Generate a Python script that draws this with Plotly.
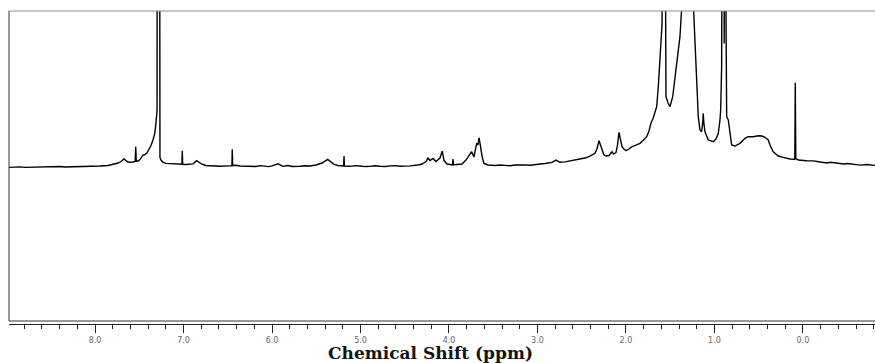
import plotly.graph_objects as go

# Chemical shift (ppm) and intensity (relative units, baseline = 0)
shift_ppm = [
    8.972, 8.91, 8.847, 8.79, 8.734, 8.68, 8.621, 8.56, 8.508, 8.45,
    8.395, 8.34, 8.282, 8.22, 8.169, 8.11, 8.056, 8.00, 7.944, 7.853,
    7.797, 7.740, 7.706, 7.672, 7.638, 7.605, 7.571, 7.546, 7.540, 7.534,
    7.514, 7.492, 7.458, 7.435, 7.412, 7.390, 7.367, 7.345, 7.325, 7.311,
    7.299, 7.286, 7.273, 7.266, 7.254, 7.232, 7.198, 7.153, 7.096, 7.040,
    7.018, 7.014, 7.009, 6.972, 6.927, 6.893, 6.851, 6.825, 6.791, 6.746,
    6.678, 6.588, 6.497, 6.453, 6.449, 6.444, 6.407, 6.362, 6.271, 6.181,
    6.13, 6.079, 6.04, 6.000, 5.932, 5.876, 5.82, 5.774, 5.73, 5.684,
    5.63, 5.571, 5.503, 5.435, 5.371, 5.333, 5.299, 5.254, 5.191, 5.186,
    5.182, 5.119, 5.06, 5.006, 4.95, 4.893, 4.84, 4.780, 4.72, 4.667,
    4.61, 4.554, 4.50, 4.441, 4.350, 4.305, 4.260, 4.237, 4.215, 4.181,
    4.147, 4.102, 4.076, 4.056, 4.023, 3.989, 3.960, 3.955, 3.949, 3.910,
    3.853, 3.808, 3.774, 3.744, 3.718, 3.687, 3.672, 3.661, 3.644, 3.627,
    3.605, 3.559, 3.480, 3.42, 3.367, 3.31, 3.254, 3.20, 3.141, 3.08,
    3.028, 2.97, 2.915, 2.836, 2.791, 2.746, 2.689, 2.633, 2.576, 2.520,
    2.463, 2.407, 2.350, 2.328, 2.316, 2.305, 2.288, 2.271, 2.249, 2.226,
    2.192, 2.158, 2.141, 2.113, 2.096, 2.079, 2.062, 2.045, 2.023, 2.000,
    1.966, 1.932, 1.887, 1.842, 1.808, 1.766, 1.740, 1.718, 1.692, 1.653,
    1.635, 1.608, 1.593, 1.567, 1.548, 1.525, 1.503, 1.472, 1.427, 1.390,
    1.362, 1.294, 1.243, 1.220, 1.201, 1.183, 1.164, 1.145, 1.132, 1.127,
    1.121, 1.107, 1.070, 1.014, 0.983, 0.957, 0.938, 0.930, 0.919, 0.912,
    0.902, 0.890, 0.881, 0.870, 0.862, 0.844, 0.825, 0.806, 0.768, 0.712,
    0.655, 0.621, 0.562, 0.505, 0.463, 0.429, 0.392, 0.373, 0.336, 0.279,
    0.223, 0.147, 0.092, 0.087, 0.081, 0.053, -0.042, -0.12, -0.192, -0.27,
    -0.31, -0.381, -0.46, -0.50, -0.568, -0.65, -0.72, -0.814,
]

intensity = [
    -0.84, -0.50, -0.55, -0.90, -0.80, -0.55, -0.45, -0.80, -0.70, -0.35,
    -0.30, -0.60, -0.55, -0.20, -0.15, -0.40, -0.35, 0.10, 0.05, 0.32,
    0.97, 1.94, 2.90, 4.52, 2.90, 2.39, 2.58, 3.03, 12.45, 3.03,
    3.23, 4.19, 7.10, 7.42, 8.58, 10.65, 13.23, 16.77, 21.10, 27.74,
    36.13, 1000.0, 8.39, 5.48, 3.87, 2.39, 1.74, 1.55, 1.29, 1.16,
    1.10, 9.87, 1.03, 0.97, 1.10, 1.42, 3.42, 2.26, 1.16, 0.32,
    0.00, -0.19, 0.10, 0.13, 10.77, 0.32, 0.52, 0.00, -0.19, -0.32,
    0.25, -0.10, -0.40, 0.10, 1.42, -0.19, 0.30, -0.32, -0.40, -0.15,
    0.20, 0.05, 0.65, 1.94, 4.32, 2.58, 1.10, 0.32, 0.00, 6.45,
    0.00, -0.19, 0.25, 0.05, -0.35, -0.25, 0.20, -0.10, -0.30, 0.10,
    0.25, -0.15, -0.20, 0.13, 0.65, 1.29, 2.90, 5.16, 3.55, 4.84,
    2.90, 5.16, 9.68, 3.55, 1.29, 0.97, 0.77, 4.52, 0.77, 0.97,
    1.29, 3.87, 6.45, 9.23, 5.81, 14.84, 13.55, 18.26, 12.90, 6.45,
    1.61, 0.65, 0.32, 0.70, 0.45, 0.20, 0.65, 0.90, 0.77, 0.50,
    1.10, 1.30, 1.61, 2.39, 3.87, 2.39, 2.71, 3.42, 3.87, 4.52,
    5.16, 6.45, 8.19, 10.97, 13.55, 16.32, 13.55, 10.77, 7.10, 6.45,
    6.77, 9.23, 7.74, 8.71, 13.55, 21.74, 16.77, 12.45, 10.97, 9.87,
    10.97, 12.45, 13.55, 14.65, 16.45, 18.90, 22.58, 27.55, 30.97, 38.26,
    51.16, 72.71, 90.97, 300.0, 44.71, 40.65, 38.26, 44.71, 64.06, 83.42,
    110.0, 800.0, 110.0, 76.97, 53.35, 31.81, 23.23, 22.13, 28.39, 34.00,
    28.39, 22.13, 16.77, 15.68, 17.42, 20.90, 29.68, 36.13, 64.06, 100.0,
    400.0, 79.0, 400.0, 100.0, 31.81, 29.68, 21.10, 13.55, 12.90, 14.65,
    17.87, 18.90, 18.90, 19.55, 19.35, 18.52, 16.77, 13.55, 9.23, 6.45,
    5.61, 4.52, 4.32, 53.74, 4.97, 3.87, 3.42, 3.30, 2.58, 2.00,
    2.40, 1.74, 1.30, 1.60, 1.10, 0.60, 0.95, 0.45,
]

tick_values = [8, 7, 6, 5, 4, 3, 2, 1, 0]
tick_labels = ["8.0", "7.0", "6.0", "5.0", "4.0", "3.0", "2.0", "1.0", "0.0"]
x_title = "Chemical Shift (ppm)"

fig = go.Figure()
fig.add_trace(go.Scatter(
    x=shift_ppm, y=intensity, mode="lines",
    line=dict(color="#000000", width=1.4),
    hoverinfo="skip", showlegend=False,
))

W, H = 875, 363
m_l, m_r, m_t, m_b = 9, 0, 11, 39
plot_h = H - m_t - m_b
frame_bottom = 3 / plot_h  # frame bottom sits 3 px above the axis line

fig.update_layout(
    width=W, height=H,
    margin=dict(l=m_l, r=m_r, t=m_t, b=m_b, pad=0),
    paper_bgcolor="white", plot_bgcolor="white",
    showlegend=False,
    xaxis=dict(
        range=[8.972, -0.814],
        showgrid=False, zeroline=False,
        showline=True, linecolor="#222222", linewidth=1,
        tickmode="array", tickvals=tick_values, ticktext=tick_labels,
        ticks="outside", ticklen=8, tickwidth=1, tickcolor="#222222",
        tickfont=dict(family="DejaVu Sans", size=8, color="#666666"),
        minor=dict(dtick=0.2, tick0=0, ticks="outside", ticklen=4,
                   tickwidth=1, tickcolor="#222222", showgrid=False),
    ),
    yaxis=dict(
        range=[-101.9, 100], visible=False, showgrid=False, zeroline=False,
    ),
    shapes=[
        dict(type="line", xref="paper", yref="paper", x0=0, x1=1, y0=1, y1=1,
             line=dict(color="#8c8c8c", width=1)),
        dict(type="line", xref="paper", yref="paper", x0=0, x1=0,
             y0=frame_bottom, y1=1, line=dict(color="#333333", width=1)),
        dict(type="line", xref="paper", yref="paper", x0=0, x1=1,
             y0=frame_bottom, y1=frame_bottom, line=dict(color="#333333", width=1)),
    ],
    annotations=[
        dict(text="<b>" + x_title + "</b>", xref="paper", yref="paper",
             x=0.487, y=-(29 / plot_h), xanchor="center", yanchor="middle",
             showarrow=False,
             font=dict(family="DejaVu Serif", size=17, color="#111111")),
    ],
)

fig.write_html("out.html")
